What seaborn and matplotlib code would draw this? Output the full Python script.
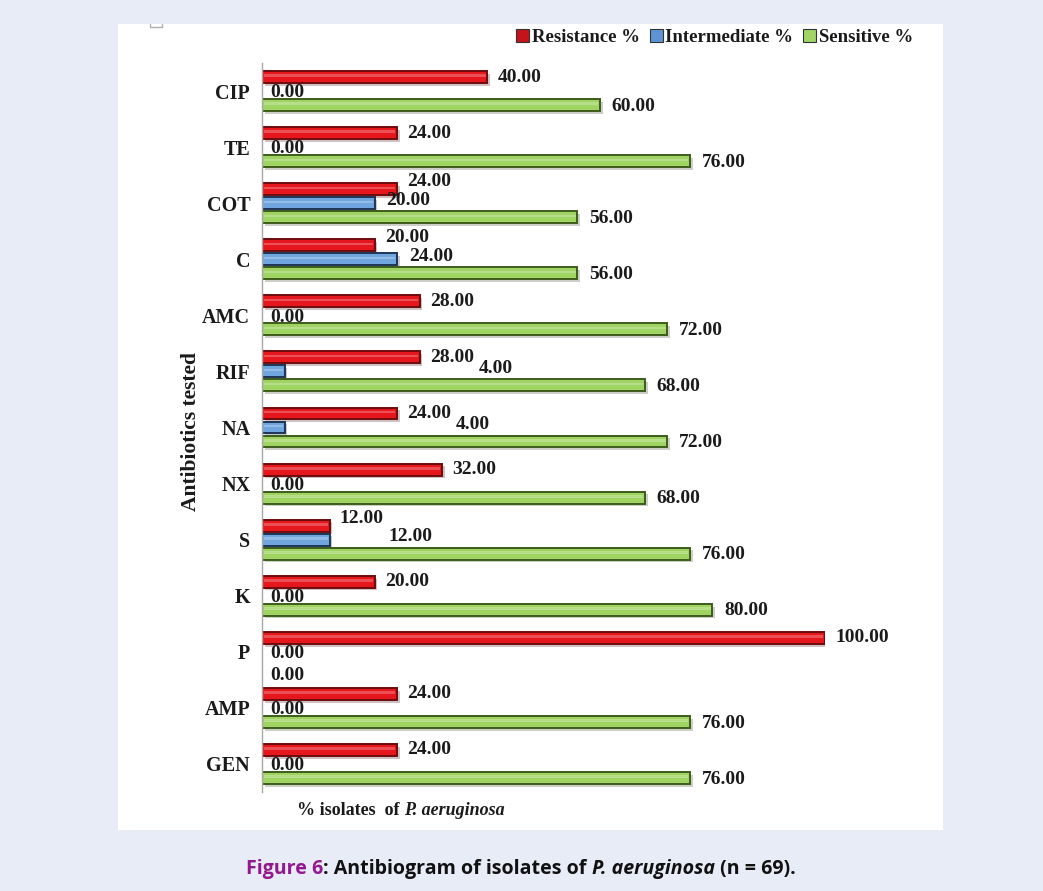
import matplotlib
matplotlib.use('Agg')
import matplotlib.pyplot as plt
import matplotlib.patheffects as pe
from matplotlib.patches import Patch, Rectangle
from matplotlib.lines import Line2D
import pandas as pd
import seaborn as sns

# data
antibiotics = ['CIP', 'TE', 'COT', 'C', 'AMC', 'RIF', 'NA', 'NX', 'S', 'K', 'P', 'AMP', 'GEN']
resistance = [40, 24, 24, 20, 28, 28, 24, 32, 12, 20, 100, 24, 24]
intermediate = [0, 0, 20, 24, 0, 4, 4, 0, 12, 0, 0, 0, 0]
sensitive = [60, 76, 56, 56, 72, 68, 72, 68, 76, 80, 0, 76, 76]
series_names = ['Resistance %', 'Intermediate %', 'Sensitive %']

bar_colors = ['#e6161d', '#6fa6de', '#9fd462']
edge_colors = ['#6e0c0c', '#1d3557', '#3d5c1c']
legend_colors = ['#c8121a', '#5d94d4', '#a0d465']

df = pd.DataFrame({
    'antibiotic': antibiotics * 3,
    'value': resistance + intermediate + sensitive,
    'type': [n for n in series_names for _ in antibiotics],
})

sns.set_theme(style='white')
plt.rcParams['font.family'] = ['Liberation Serif', 'DejaVu Serif']

W, H = 1043, 891
fig = plt.figure(figsize=(W / 100, H / 100), dpi=100)
fig.patch.set_facecolor('#e8ecf6')
fig.add_artist(Rectangle((118 / W, 1 - 830 / H), (943 - 118) / W, (830 - 24) / H,
                         transform=fig.transFigure, facecolor='white', edgecolor='none', zorder=-5))
# little grey mark in the top-left corner of the panel
fig.add_artist(Line2D([150 / W, 150 / W, 162 / W, 162 / W],
                      [1 - 24 / H, 1 - 27 / H, 1 - 27 / H, 1 - 24 / H],
                      color='#b0b0b0', lw=1, transform=fig.transFigure))

ax = fig.add_axes([262 / W, 1 - 792 / H, 563 / W, 729 / H])
ax.set_facecolor('none')

sns.barplot(data=df, x='value', y='antibiotic', hue='type', hue_order=series_names,
            palette=bar_colors, saturation=1, orient='h', width=0.75, gap=0.15,
            errorbar=None, legend=False, ax=ax)

shadow = [pe.SimplePatchShadow(offset=(2, -2), alpha=0.25), pe.Normal()]
for cont, ec in zip(ax.containers, edge_colors):
    for bar in cont:
        if bar.get_width() == 0:
            bar.set_visible(False)
            continue
        bar.set_edgecolor(ec)
        bar.set_linewidth(1.4)
        bar.set_path_effects(shadow)
        # soft highlight stripe for the glossy look
        x0, y0 = bar.get_x(), bar.get_y()
        w, h = bar.get_width(), bar.get_height()
        ax.add_patch(Rectangle((x0 + 0.3, y0 + h * 0.28), w - 0.6, h * 0.22,
                               facecolor='white', alpha=0.25, edgecolor='none', zorder=3))

ax.set_xlim(0, 100)
ax.set_ylim(12.5, -0.5)
for s in ['top', 'right', 'bottom']:
    ax.spines[s].set_visible(False)
ax.spines['left'].set_color('#a8a8a8')
ax.spines['left'].set_linewidth(1)
ax.set_xticks([])
ax.set_xlabel('')
ax.tick_params(axis='y', length=0, pad=8.5, labelsize=14.5, labelcolor='#1a1a1a')
for lab in ax.get_yticklabels():
    lab.set_fontweight('bold')
ax.set_ylabel('Antibiotics tested', fontsize=15.5, fontweight='bold', color='#1a1a1a')
ax.yaxis.set_label_coords(-0.108, 0.494)

# value labels
kw = dict(fontsize=14, fontweight='bold', color='#1a1a1a', va='center', ha='left', clip_on=False)
for i in range(len(antibiotics)):
    r, b, s = resistance[i], intermediate[i], sensitive[i]
    close = b > 0 and abs(b - r) <= 5
    ax.text(r + 1.8, i - 0.25 - (0.13 if close else 0), f'{r:.2f}', **kw)
    if b == 0:
        ax.text(1.4, i + 0.03, f'{b:.2f}', **kw)
    elif b < r - 10 or b == r:
        ax.text(r + 10.5, i - 0.05, f'{b:.2f}', **kw)
    else:
        ax.text(b + 2.1, i - 0.05, f'{b:.2f}', **kw)
    if s == 0:
        ax.text(1.4, i + 0.42, f'{s:.2f}', **kw)
    else:
        ax.text(s + 2.1, i + 0.27, f'{s:.2f}', **kw)

# x axis caption under the bars
xl = ax.text(0.062, -0.025, '% isolates  of ', transform=ax.transAxes, fontsize=13,
             fontweight='bold', color='#1a1a1a', va='center', ha='left')
ax.annotate('P. aeruginosa', xy=(1, 0.5), xycoords=xl, fontsize=13, fontweight='bold',
            fontstyle='italic', color='#1a1a1a', va='center', ha='left')

# legend
handles = [Patch(facecolor=c, edgecolor='#333333', linewidth=0.8) for c in legend_colors]
fig.legend(handles, series_names, loc='upper right', bbox_to_anchor=(913 / W, 1 - 29 / H),
           ncol=3, frameon=False, prop={'family': 'Liberation Serif', 'weight': 'bold', 'size': 13.5},
           handlelength=0.7, handleheight=0.7, handletextpad=0.15, columnspacing=0.5,
           borderaxespad=0, borderpad=0, labelcolor='#1a1a1a')

# figure caption
cap = dict(fontsize=14.1, fontweight='bold', family=['Open Sans', 'DejaVu Sans'], va='center', ha='left')
t = ax.annotate('Figure 6', xy=(246 / W, 1 - 869 / H), xycoords='figure fraction', color='#93178f', **cap)
t = ax.annotate(': Antibiogram of isolates of ', xy=(1, 0.5), xycoords=t, color='#111111', **cap)
t = ax.annotate('P. aeruginosa', xy=(1, 0.5), xycoords=t, color='#111111', fontstyle='italic', **cap)
ax.annotate(' (n = 69).', xy=(1, 0.5), xycoords=t, color='#111111', **cap)

fig.savefig('out.png', dpi=100, facecolor=fig.get_facecolor())
